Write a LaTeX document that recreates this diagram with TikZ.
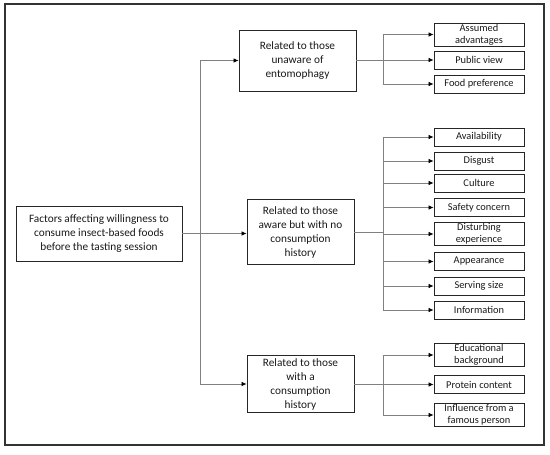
\documentclass[tikz,border=0pt]{standalone}
\usepackage{fontspec}
\setmainfont{Carlito}
\usetikzlibrary{arrows.meta}

\tikzset{
  caja/.style={draw=black!85, line width=0.9pt, align=center, inner sep=0pt,
    text=black!90, font=\fontsize{11.3}{14}\selectfont},
  hoja/.style={draw=black!85, line width=0.9pt, align=center, inner xsep=0pt,
    inner ysep=1pt, minimum width=90pt, minimum height=18pt, text=black!90,
    font=\fontsize{10.4}{12}\selectfont},
  linea/.style={draw=black!50, line width=0.7pt},
  flecha/.style={linea, -{Latex[black,length=5pt,width=4.5pt]}},
}

\begin{document}
\begin{tikzpicture}[x=1pt, y=-1pt]
    \useasboundingbox (0,0) rectangle (550,455);
    % Marco
    \draw[line width=1.6pt, black!80] (5,4) rectangle (544,445);

    % Cajas
    \node[caja, minimum width=166pt, minimum height=55pt] (factores) at (99,233.5)
        {Factors affecting willingness to\\consume insect-based foods\\before the tasting session};
    \node[caja, minimum width=117pt, minimum height=61pt] (unaware) at (297.5,60.5)
        {Related to those\\unaware of\\entomophagy};
    \node[caja, minimum width=107pt, minimum height=65pt] (aware) at (300.5,232)
        {Related to those\\aware but with no\\consumption\\history};
    \node[caja, minimum width=107pt, minimum height=57pt] (history) at (300.5,384)
        {Related to those\\with a\\consumption\\history};

    % Tronco
    \coordinate (tronco) at (200,0);
    \coordinate (rama) at (383,0);
    \draw[flecha] (factores.east) -- (factores.east -| aware.west);
    \draw[linea] (tronco |- unaware.west) -- (tronco |- history.west);
    \draw[flecha] (tronco |- unaware.west) -- (unaware.west);
    \draw[flecha] (tronco |- history.west) -- (history.west);

    % Hojas
    \foreach \n/\y/\t in {a1/34.5/{Assumed\\advantages}, a2/60/{Public view},
        a3/84/{Food preference}} {
        \node[hoja] (\n) at (479,\y) {\t};
        \draw[flecha] (rama |- \n.west) -- (\n.west);
    }
    \draw[linea] (unaware.east) -- (unaware.east -| rama);
    \draw[linea] (rama |- a1.west) -- (rama |- a3.west);

    \foreach \n/\y/\t in {b1/137/Availability, b2/161/Disgust, b3/183/Culture,
        b4/207.5/{Safety concern}, b5/234/{Disturbing\\experience},
        b6/261.5/Appearance, b7/286/{Serving size}, b8/310/Information} {
        \node[hoja] (\n) at (479,\y) {\t};
        \draw[flecha] (rama |- \n.west) -- (\n.west);
    }
    \draw[linea] (aware.east) -- (aware.east -| rama);
    \draw[linea] (rama |- b1.west) -- (rama |- b8.west);

    \foreach \n/\y/\t in {c1/355/{Educational\\background}, c2/384.5/{Protein content},
        c3/415/{Influence from a\\famous person}} {
        \node[hoja] (\n) at (479,\y) {\t};
        \draw[flecha] (rama |- \n.west) -- (\n.west);
    }
    \draw[linea] (history.east) -- (history.east -| rama);
    \draw[linea] (rama |- c1.west) -- (rama |- c3.west);
\end{tikzpicture}
\end{document}
